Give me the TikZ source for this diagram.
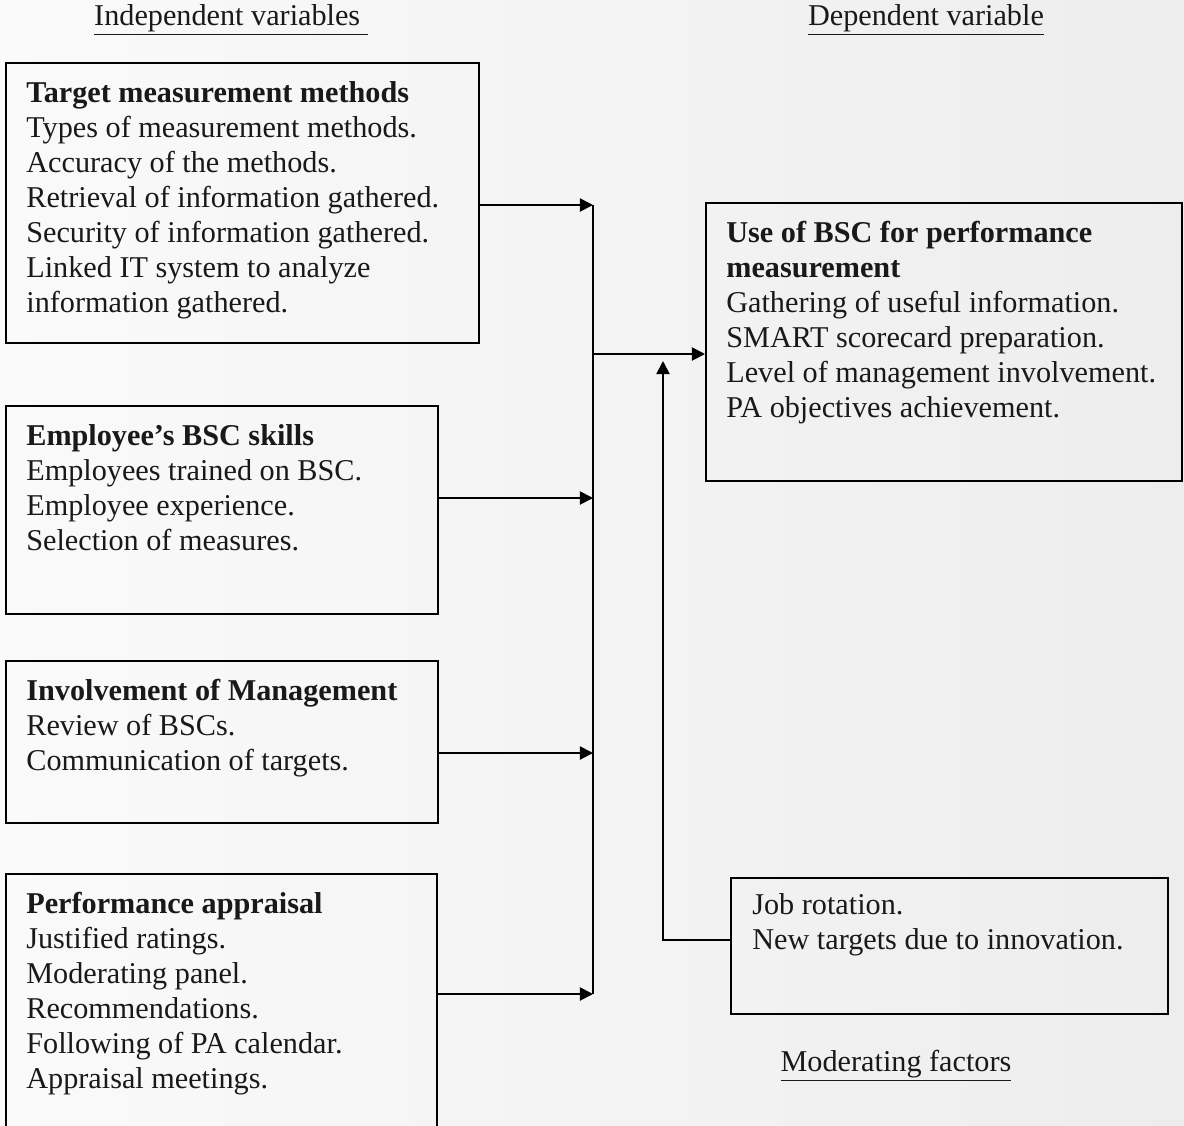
\documentclass[tikz,border=0pt]{standalone}
\usepackage{fontspec}
\setmainfont{Liberation Serif}
\usetikzlibrary{calc,arrows.meta}

\tikzset{
  box/.style={draw, line width=1.1pt, anchor=north west, inner sep=0pt},
  txt/.style={anchor=north west, align=left, inner sep=0pt, text=black!90},
  head/.style={inner sep=0pt, text=black!90},
  arr/.style={-{Triangle[length=7.5pt,width=7.5pt]}, line width=1.1pt},
}

\begin{document}
\begin{tikzpicture}[x=0.02cm, y=-0.02cm, font=\fontsize{17.2}{19.9}\selectfont]
  \useasboundingbox (0,0) rectangle (1184,1126);
  \clip (0,0) rectangle (1184,1126);
  \shade[left color=black!2, right color=black!7] (0,0) rectangle (1184,1126);

  \coordinate (b1) at (593,205);
  \coordinate (b2) at (593,498);
  \coordinate (b3) at (593,753);
  \coordinate (b4) at (593,994);
  \coordinate (b0) at (593,354);
  \coordinate (m1) at (663,940);
  \coordinate (m2) at (663,361);

  \node[box, minimum width=9.46cm, minimum height=5.6cm] (tmm) at (5,62) {};
  \node[box, minimum width=8.64cm, minimum height=4.16cm] (skills) at (5,405) {};
  \node[box, minimum width=8.64cm, minimum height=3.24cm] (mgmt) at (5,660) {};
  \node[box, minimum width=8.62cm, minimum height=6cm] (pa) at (5,873) {};
  \node[box, minimum width=9.52cm, minimum height=5.56cm] (bsc) at (705,202) {};
  \node[box, minimum width=8.74cm, minimum height=2.72cm] (mod) at (730,877) {};

  \draw[line width=1.1pt] (b1) -- (b4);
  \draw[arr] (tmm.east |- b1) -- (b1);
  \draw[arr] (skills.east |- b2) -- (b2);
  \draw[arr] (mgmt.east |- b3) -- (b3);
  \draw[arr] (pa.east |- b4) -- (b4);
  \draw[arr] (b0) -- (bsc.west |- b0);
  \draw[arr] (mod.west |- m1) -- (m1) -- (m2);

  \node[head] (indep) at (231,20) {\underline{Independent variables\ }};
  \node[head] (dep) at (926,20) {\underline{Dependent variable}};
  \node[head] (modf) at (896,1066) {\underline{Moderating factors}};

  \node[txt] (tmmtext) at ($(tmm.north west)+(21,15.5)$) {\strut\textbf{Target measurement methods}\\
    Types of measurement methods.\\ Accuracy of the methods.\\
    Retrieval of information gathered.\\ Security of information gathered.\\
    Linked IT system to analyze\\ information gathered.};
  \node[txt] (skillstext) at ($(skills.north west)+(21,15.5)$) {\strut\textbf{Employee’s BSC skills}\\
    Employees trained on BSC.\\ Employee experience.\\ Selection of measures.};
  \node[txt] (mgmttext) at ($(mgmt.north west)+(21,15.5)$) {\strut\textbf{Involvement of Management}\\
    Review of BSCs.\\ Communication of targets.};
  \node[txt] (patext) at ($(pa.north west)+(21,15.5)$) {\strut\textbf{Performance appraisal}\\
    Justified ratings.\\ Moderating panel.\\ Recommendations.\\
    Following of PA calendar.\\ Appraisal meetings.};
  \node[txt] (bsctext) at ($(bsc.north west)+(21,15.5)$) {\strut\textbf{Use of BSC for performance}\\
    \textbf{measurement}\\ Gathering of useful information.\\ SMART scorecard preparation.\\
    Level of management involvement.\\ PA objectives achievement.};
  \node[txt] (modtext) at ($(mod.north west)+(22,12.5)$) {\strut Job rotation.\\
    New targets due to innovation.};
\end{tikzpicture}
\end{document}
